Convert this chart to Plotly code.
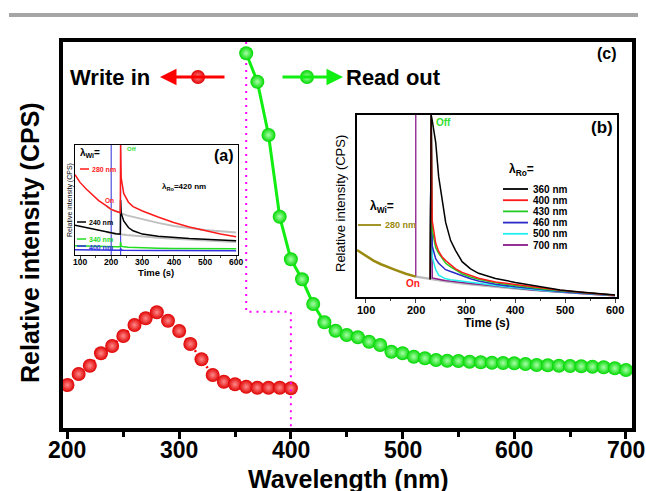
import plotly.graph_objects as go

# ---------------- data ----------------
# main panel (c): intensity in arbitrary units
write_wl = [200, 210, 220, 230, 240, 250, 260, 270, 280, 290, 300,
            310, 320, 330, 340, 350, 360, 370, 380, 390, 400]
write_int = [43, 54, 62.3, 74.7, 82, 92, 103, 109.7, 115.7, 107.3, 97,
             84, 68.7, 53, 46.3, 43.7, 41.3, 40.3, 40.3, 40.3, 39.7]
read_wl = [360, 370, 380, 390, 400, 410, 420, 430, 440, 450, 460, 470,
           480, 490, 500, 510, 520, 530, 540, 550, 560, 570, 580, 590,
           600, 610, 620, 630, 640, 650, 660, 670, 680, 690, 700]
read_int = [374.7, 346.3, 293, 211.3, 168.7, 148.7, 124, 105.7, 97.3, 93,
            90.7, 86.3, 83, 76.3, 74.7, 71.3, 69.7, 68, 67.3, 67, 66.3,
            65.7, 65.3, 65, 64.7, 64, 63, 62.7, 62.3, 62, 61.7, 61.3,
            60.7, 59.7, 58]
guide_wl = [360, 360, 400, 400]
guide_int = [386, 116.3, 116.3, 0]

# inset (a): read-out at 420 nm, time in s
a_time = [84, 100, 120, 140, 160, 180, 200, 215, 229, 230, 232, 240, 255,
          270, 300, 350, 400, 450, 500, 550, 600]
a_280 = [73, 66, 60, 54.5, 49.5, 45.5, 41.5, 39.8, 38.5, 100, 70, 56, 48,
         44, 40, 34.5, 29.5, 25.5, 22, 19, 16.5]
a_240 = [27, 26, 24.8, 23.5, 22.3, 21, 19.8, 19.3, 18.9, 50, 38, 31, 25,
         22, 19, 17, 15.9, 15, 14.4, 13.6, 12.9]
a_340 = [8.5, 8.3, 8.1, 7.9, 7.8, 7.7, 7.6, 7.5, 7.5, 12, 8, 7.4, 7, 6.8,
         6.5, 6.2, 6, 5.9, 5.8, 5.7, 5.6]
a_400 = [4.8, 4.7, 4.6, 4.6, 4.5, 4.5, 4.5, 4.4, 4.4, 6, 4.5, 4.4, 4.3, 4.3,
         4.2, 4.1, 4.1, 4, 4, 4, 3.9]
a_ref_time = [185, 200, 250, 300, 350, 400, 450, 500, 550, 600]
a_ref_hi = [44.4, 41.5, 36, 32.4, 29.2, 26.4, 24.5, 22.8, 21.5, 20.4]
a_ref_lo = [20.8, 19.8, 18.2, 16.8, 15.7, 14.8, 14, 13.2, 12.5, 11.8]
a_on, a_off = 200, 230

# inset (b): write-in at 280 nm, time in s
b_wi_time = [82, 100, 115, 130, 145, 160, 180, 200]
b_wi_280 = [25.8, 22.5, 20, 18, 16.3, 14.8, 12.8, 11.2]
b_ref_time = [200, 230, 260, 300, 350, 400, 450, 500, 550, 600]
b_ref = [11.2, 9.8, 8.6, 7.3, 5.9, 4.7, 3.6, 2.6, 1.7, 0.9]
b_time = [229, 231, 233, 240, 246, 253, 260, 270, 280, 293, 310, 326, 360,
          400, 430, 460, 490, 530, 560, 600]
b_series = {
    "700 nm": [9.8, 100, 10.5, 10, 9.6, 9.3, 9.0, 8.6, 8.3, 7.9, 7.4, 7, 5.9,
               4.8, 4, 3.3, 2.6, 1.9, 1.4, 0.7],
    "500 nm": [9.8, 100, 22, 15, 12, 10.8, 10, 9.5, 9.2, 8.8, 8.2, 7.5, 6.3,
               5, 4.2, 3.5, 2.8, 2, 1.5, 0.8],
    "460 nm": [9.8, 100, 28, 21, 18.5, 16.5, 15, 14, 13, 11.5, 10, 8.8, 7,
               5.6, 4.7, 3.8, 3.0, 2.2, 1.6, 0.9],
    "430 nm": [9.8, 100, 36.8, 27, 24, 21, 18.5, 16.5, 14.8, 12.8, 11, 9.8,
               7.8, 6.3, 5.2, 4.3, 3.4, 2.4, 1.8, 1.0],
    "400 nm": [9.8, 100, 42, 29.5, 25, 22, 20, 17.5, 15.5, 13.5, 11.8, 10.3,
               8.3, 6.8, 5.6, 4.6, 3.7, 2.6, 1.9, 1.0],
    "360 nm": [9.8, 100, 97, 85, 66, 53, 41, 31, 25.5, 19.4, 15.5, 13, 10.2,
               8, 6.5, 5.2, 3.9, 2.8, 2, 1.1],
}
b_colors = {"360 nm": "#000000", "400 nm": "#ff1a1a", "430 nm": "#22cc22",
            "460 nm": "#2a2ac8", "500 nm": "#22eeee", "700 nm": "#8b1a8b"}
b_legend_order = ["360 nm", "400 nm", "430 nm", "460 nm", "500 nm", "700 nm"]
b_on = 200

main_ticks = [200, 300, 400, 500, 600, 700]
time_ticks = [100, 200, 300, 400, 500, 600]

# ---------------- layout helpers ----------------
W, H = 646, 491
FONT = "Liberation Sans, Arial, sans-serif"


def px(x):
    return x / W


def py(y):
    return 1 - y / H


annotations = []
shapes = []


def text(t, x, y, size, color="black", bold=True, xanchor="center",
         angle=0, xref="paper"):
    annotations.append(dict(
        text=t, x=(px(x) if xref == "paper" else x), y=py(y),
        xref=xref, yref="paper",
        showarrow=False, xanchor=xanchor, yanchor="middle", textangle=angle,
        font=dict(family=FONT, size=size, color=color,
                  weight="bold" if bold else "normal")))


def hline(x0, x1, y, color, width):
    shapes.append(dict(type="line", xref="paper", yref="paper",
                       x0=px(x0), x1=px(x1), y0=py(y), y1=py(y),
                       line=dict(color=color, width=width)))


fig = go.Figure()

RED_BALL = dict(size=14, color="#e00000",
                gradient=dict(type="radial", color="#ff8a8a"),
                line=dict(width=0))
GREEN_BALL = dict(size=14, color="#00d800",
                  gradient=dict(type="radial", color="#a8ffa8"),
                  line=dict(width=0))

# ---------------- main panel ----------------
fig.add_trace(go.Scatter(
    x=write_wl, y=write_int, mode="lines+markers",
    line=dict(color="#ff0000", width=2.5, dash="2px,3px"),
    marker=RED_BALL, xaxis="x", yaxis="y", showlegend=False))
fig.add_trace(go.Scatter(
    x=guide_wl, y=guide_int, mode="lines",
    line=dict(color="#ff00ff", width=2, dash="2px,5px"),
    xaxis="x", yaxis="y", showlegend=False))
fig.add_trace(go.Scatter(
    x=read_wl, y=read_int, mode="lines+markers",
    line=dict(color="#11ee11", width=3),
    marker=GREEN_BALL, xaxis="x", yaxis="y", showlegend=False))

# ---------------- inset (a) ----------------
fig.add_trace(go.Scatter(x=[a_on, a_on], y=[0, 100], mode="lines",
                         line=dict(color="#5050e0", width=1.2),
                         xaxis="x2", yaxis="y2", showlegend=False))
fig.add_trace(go.Scatter(x=[a_off, a_off], y=[0, 100], mode="lines",
                         line=dict(color="#5050e0", width=1.2),
                         xaxis="x2", yaxis="y2", showlegend=False))
for ys in (a_ref_hi, a_ref_lo):
    fig.add_trace(go.Scatter(x=a_ref_time, y=ys, mode="lines",
                             line=dict(color="#c0c0c0", width=2),
                             xaxis="x2", yaxis="y2", showlegend=False))
for ys, col in ((a_400, "#3030e0"), (a_340, "#22dd22"), (a_240, "#000000"),
                (a_280, "#ff1a1a")):
    fig.add_trace(go.Scatter(x=a_time, y=ys, mode="lines",
                             line=dict(color=col, width=1.5),
                             xaxis="x2", yaxis="y2", showlegend=False))

# ---------------- inset (b) ----------------
fig.add_trace(go.Scatter(x=b_ref_time, y=b_ref, mode="lines",
                         line=dict(color="#bbbbbb", width=2.5),
                         xaxis="x3", yaxis="y3", showlegend=False))
fig.add_trace(go.Scatter(x=[b_on, b_on], y=[b_wi_280[-1], 100], mode="lines",
                         line=dict(color="#8b1a8b", width=1.3),
                         xaxis="x3", yaxis="y3", showlegend=False))
fig.add_trace(go.Scatter(x=b_wi_time, y=b_wi_280, mode="lines",
                         line=dict(color="#9a8a10", width=2.5),
                         xaxis="x3", yaxis="y3", showlegend=False))
for name in ["700 nm", "500 nm", "460 nm", "430 nm", "400 nm", "360 nm"]:
    fig.add_trace(go.Scatter(x=b_time, y=b_series[name], mode="lines",
                             line=dict(color=b_colors[name], width=1.5),
                             xaxis="x3", yaxis="y3", showlegend=False))

# ---------------- legend glyphs of main panel (overlay axis) ----------------
fig.add_trace(go.Scatter(x=[198], y=[77], mode="markers", marker=RED_BALL,
                         xaxis="x4", yaxis="y4", showlegend=False,
                         hoverinfo="skip"))
fig.add_trace(go.Scatter(x=[307], y=[77], mode="markers", marker=GREEN_BALL,
                         xaxis="x4", yaxis="y4", showlegend=False,
                         hoverinfo="skip"))
annotations.append(dict(x=px(160), y=py(77), xref="paper", yref="paper",
                        ax=66, ay=0, axref="pixel", ayref="pixel", text="",
                        showarrow=True, arrowhead=2, arrowsize=1.1,
                        arrowwidth=3, arrowcolor="#ff0000", standoff=0))
annotations.append(dict(x=px(343), y=py(77), xref="paper", yref="paper",
                        ax=-62, ay=0, axref="pixel", ayref="pixel", text="",
                        showarrow=True, arrowhead=2, arrowsize=1.1,
                        arrowwidth=3, arrowcolor="#11ee11", standoff=0))

# ---------------- tick labels ----------------
for v in main_ticks:
    text(str(v), v, 450, 23, xref="x")
for v in time_ticks:
    text(str(v), v, 262, 8.5, xref="x2")
    text(str(v), v, 310, 11, xref="x3")

# ---------------- texts ----------------
text("Write in", 68, 78, 22, xanchor="left")
text("Read out", 344, 78, 22, xanchor="left")
text("(c)", 607, 53, 16)
text("Wavelength (nm)", 348, 479, 25)
text("Relative intensity (CPS)", 30, 243, 25, angle=-90)

# inset (a) texts
text("λ<sub>Wi</sub>=", 78, 153, 10, xanchor="left")
text("(a)", 236, 156, 16, xanchor="right")
text("Off", 125, 149, 6, color="#33dd33", xanchor="left")
hline(80, 89, 169, "#ff1a1a", 1.5)
text("280 nm", 90, 169, 7, color="#ff1a1a", xanchor="left")
text("On", 103, 200, 6.5, color="#ff1a1a", xanchor="left")
text("λ<sub>Ro</sub>=420 nm", 160, 187, 8, xanchor="left")
hline(77, 86, 222, "#000000", 1.5)
text("240 nm", 87, 222, 7, xanchor="left")
hline(77, 86, 239, "#22dd22", 1.5)
text("340 nm", 87, 239, 7, color="#22dd22", xanchor="left")
hline(77, 86, 246, "#3030e0", 1.5)
text("400 nm", 87, 247, 7, color="#3030e0", xanchor="left")
text("Relative intensity (CPS)", 70, 200, 7, bold=False, angle=-90)
text("Time (s)", 156, 272, 9.5)

# inset (b) texts
text("(b)", 615, 127, 17, xanchor="right")
text("Off", 434, 123, 10, color="#33dd33", xanchor="left")
text("λ<sub>Ro</sub>=", 507, 170, 12, xanchor="left")
for i, name in enumerate(b_legend_order):
    yy = 189 + i * 11.2
    hline(503, 528, yy, b_colors[name], 1.8)
    text(name, 531, yy, 10, xanchor="left")
text("λ<sub>Wi</sub>=", 368, 207, 12, xanchor="left")
hline(358, 381, 225, "#9a8a10", 1.8)
text("280 nm", 383, 225, 9, color="#9a8a10", xanchor="left")
text("On", 404, 283, 10, color="#ff1a1a", xanchor="left")
text("Relative intensity (CPS)", 341, 204, 13, bold=False, angle=-90)
text("Time (s)", 487, 323, 12)

# grey rule at top
hline(9, 638, 15, "#a5a5a5", 4)

frame = dict(showline=True, mirror=True, linecolor="black", showgrid=False,
             zeroline=False, automargin=False, showticklabels=False)

fig.update_layout(
    width=W, height=H,
    margin=dict(l=0, r=0, t=0, b=0, pad=0, autoexpand=False),
    paper_bgcolor="white", plot_bgcolor="rgba(0,0,0,0)",
    font=dict(family=FONT, color="black"),
    showlegend=False,
    xaxis=dict(domain=[px(63), px(632)], range=[196, 705.4], anchor="y",
               linewidth=3.5, ticks="outside", ticklen=7, tickwidth=3,
               tickcolor="black", tickvals=main_ticks,
               minor=dict(ticks="outside", ticklen=5, tickwidth=2.5,
                          tick0=0, dtick=50, tickcolor="black"),
               **frame),
    yaxis=dict(domain=[py(428), py(42)], range=[0, 386], anchor="x",
               linewidth=3.5, ticks="", **frame),
    xaxis2=dict(domain=[px(75), px(238)], range=[84, 606], anchor="y2",
                linewidth=1.2, ticks="outside", ticklen=3, tickwidth=1,
                tickvals=time_ticks,
                minor=dict(ticks="outside", ticklen=2, tickwidth=1,
                           tick0=0, dtick=50),
                **frame),
    yaxis2=dict(domain=[py(255), py(145)], range=[0, 100], anchor="x2",
                linewidth=1.2, ticks="", **frame),
    xaxis3=dict(domain=[px(357), px(617)], range=[82, 604], anchor="y3",
                linewidth=1.5, ticks="outside", ticklen=4, tickwidth=1.3,
                tickvals=time_ticks,
                minor=dict(ticks="outside", ticklen=2.5, tickwidth=1.2,
                           tick0=0, dtick=50),
                **frame),
    yaxis3=dict(domain=[py(297), py(115)], range=[0, 100], anchor="x3",
                linewidth=1.5, ticks="", **frame),
    xaxis4=dict(domain=[0, 1], range=[0, W], visible=False, anchor="y4",
                automargin=False),
    yaxis4=dict(domain=[0, 1], range=[H, 0], visible=False, anchor="x4",
                automargin=False),
    annotations=annotations,
    shapes=shapes,
)

fig.write_html("out.html")
